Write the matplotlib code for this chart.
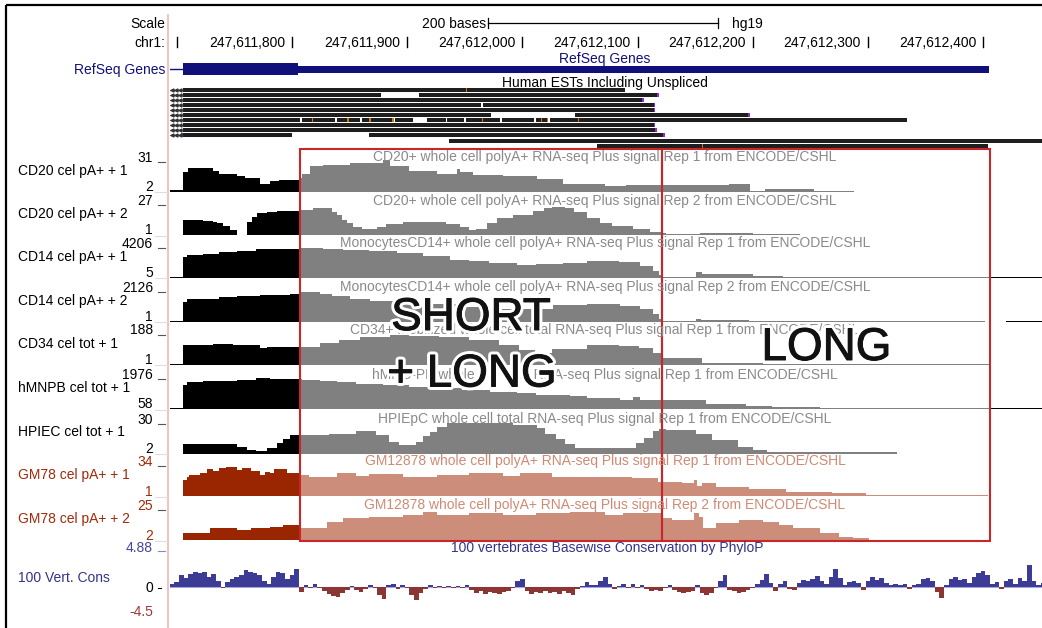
import numpy as np
import matplotlib.pyplot as plt
from matplotlib.patches import Rectangle
import matplotlib.patheffects as pe

plt.rcParams['font.family'] = ['Liberation Sans', 'DejaVu Sans']

W, H = 1042, 628
CHR_START = 247611700          # all positions below are bp offsets from chr1:247,611,700
XLIM = (-5.9, 751.1)
SHADE = (107, 706)             # region drawn in light colours
BOX_EDGES = (107, 421, 706)    # red boxes

# ---- ruler / gene ----
ruler_ticks = [0, 100, 200, 300, 400, 500, 600, 700]
scale_bar = (270, 470)
gene_start, gene_thick_end, gene_end = 5, 105, 705

# ---- ESTs: (start, end) per row ----
est_rows = [
    [(5, 389)],
    [(5, 177), (210, 418)],
    [(5, 405)],
    [(5, 264), (266, 415)],
    [(5, 415)],
    [(5, 273), (346, 497)],
    [(5, 107), (109, 137), (139, 159), (161, 187), (189, 205), (217, 234),
     (235, 249), (251, 281), (282, 310), (312, 322), (324, 634)],
    [(5, 415)],
    [(5, 416)],
    [(5, 100), (167, 423)],
    [(236, 751)],
    [(365, 704)],
]
est_marks = [(0, 251), (6, 117), (6, 148), (6, 167), (6, 187), (6, 265),
             (6, 316), (6, 321), (6, 348), (11, 456)]
est_caps = [(1, 418), (2, 405), (3, 415), (4, 415), (5, 497), (7, 415),
            (8, 416), (9, 423), (9, 5)]

# ---- signal tracks ----
track_names = ["CD20 cel pA+ + 1", "CD20 cel pA+ + 2", "CD14 cel pA+ + 1",
               "CD14 cel pA+ + 2", "CD34 cel tot + 1", "hMNPB cel tot + 1",
               "HPIEC cel tot + 1", "GM78 cel pA+ + 1", "GM78 cel pA+ + 2"]
track_titles = [
    "CD20+ whole cell polyA+ RNA-seq Plus signal Rep 1 from ENCODE/CSHL",
    "CD20+ whole cell polyA+ RNA-seq Plus signal Rep 2 from ENCODE/CSHL",
    "MonocytesCD14+ whole cell polyA+ RNA-seq Plus signal Rep 1 from ENCODE/CSHL",
    "MonocytesCD14+ whole cell polyA+ RNA-seq Plus signal Rep 2 from ENCODE/CSHL",
    "CD34+ Mobilized whole cell total RNA-seq Plus signal Rep 1 from ENCODE/CSHL",
    "hMNC-PB whole cell total RNA-seq Plus signal Rep 1 from ENCODE/CSHL",
    "HPIEpC whole cell total RNA-seq Plus signal Rep 1 from ENCODE/CSHL",
    "GM12878 whole cell polyA+ RNA-seq Plus signal Rep 1 from ENCODE/CSHL",
    "GM12878 whole cell polyA+ RNA-seq Plus signal Rep 2 from ENCODE/CSHL",
]
track_min = [2, 1, 5, 1, 1, 58, 2, 1, 2]
track_max = [31, 27, 4206, 2126, 188, 1976, 30, 34, 25]

t1_pos = [-6, 5, 10, 31, 37, 52, 59, 72, 81, 89, 107, 109, 116, 127, 150, 179, 185,
          202, 226, 243, 246, 257, 283, 313, 335, 372, 390, 422, 479, 498, 511, 553, 588]
t1_val = [3.1, 20.1, 23.7, 21.0, 17.9, 15.6, 13.8, 9.2, 11.1, 12.4, 13.8, 18.3, 24.7,
          26.0, 27.4, 30.5, 24.7, 21.0, 17.9, 22.8, 20.1, 17.0, 15.6, 12.9, 9.2, 7.0,
          8.3, 7.9, 9.2, 2.9, 4.3, 2.9]

t2_pos = [5, 23, 31, 35, 40, 46, 52, 61, 65, 70, 78, 87, 107, 118, 135, 139, 143, 148,
          153, 161, 174, 182, 196, 234, 246, 254, 260, 269, 278, 292, 309, 319, 326,
          337, 345, 356, 367, 378, 396, 411, 421, 425, 454, 500, 541]
t2_val = [13.2, 12.6, 11.6, 10.5, 8.3, 5.1, 1.0, 11.8, 15.6, 18.6, 19.9, 20.7, 21.3,
          22.7, 19.9, 17.3, 13.2, 10.5, 7.7, 5.9, 7.3, 9.9, 11.8, 9.9, 7.3, 5.1, 5.6,
          10.5, 14.6, 17.3, 20.7, 22.9, 24.0, 22.9, 19.7, 14.8, 10.8, 8.3, 5.6, 3.4,
          2.4, 1.8, 2.9, 1.8]

t3_pos = [-6, 5, 9, 23, 37, 52, 69, 107, 127, 144, 167, 191, 214, 237, 254, 271, 295,
          312, 335, 356, 384, 402, 413, 419, 422, 451, 456, 500, 526, 751]
t3_val = [136, 2631, 2959, 3090, 3288, 3524, 3681, 3813, 3747, 3616, 3419, 3156, 2828,
          2368, 2106, 1843, 1646, 1712, 1843, 2171, 1975, 1515, 858, 333, 136, 662,
          399, 202, 136]

t4_pos = [-6, 5, 9, 20, 37, 52, 72, 98, 107, 124, 135, 150, 168, 211, 246, 281, 327,
          356, 385, 402, 413, 419, 422, 451, 455, 497, 702, 720, 751]
t4_val = [67, 1329, 1462, 1528, 1661, 1727, 1761, 1794, 1993, 1860, 1694, 1528, 1395,
          1196, 997, 864, 1097, 1196, 1063, 864, 532, 200, 67, 134, 101, 67, 1, 67]

t5_pos = [-6, 5, 31, 49, 72, 78, 107, 124, 141, 159, 185, 202, 228, 254, 280, 297,
          311, 326, 356, 384, 401, 413, 422, 456, 509, 706]
t5_val = [6.8, 115, 121, 115, 96, 105, 105, 124, 144, 159, 176, 170, 159, 144, 115,
          83, 71, 94, 115, 112, 97, 68, 39, 9.8, 6.8]

t6_pos = [-6, 5, 9, 23, 52, 69, 81, 109, 124, 139, 156, 179, 202, 226, 248, 272, 295,
          312, 341, 356, 385, 396, 402, 459, 494, 517, 558, 751]
t6_val = [118, 1496, 1657, 1735, 1795, 1897, 1837, 1795, 1735, 1657, 1538, 1496, 1394,
          1298, 1196, 1094, 998, 897, 837, 717, 627, 795, 597, 358, 256, 178, 118]

t7_pos = [5, 52, 61, 69, 78, 87, 92, 98, 107, 132, 156, 173, 184, 193, 208, 214, 220,
          226, 235, 246, 269, 292, 313, 320, 329, 337, 346, 356, 399, 406, 413, 419,
          425, 451, 465, 487, 500, 512, 625]
t7_val = [10.2, 8.0, 5.1, 4.2, 6.4, 10.8, 15.1, 18.2, 18.2, 19.5, 21.7, 18.2, 12.5,
          9.4, 12.5, 16.9, 21.1, 25.5, 28.3, 29.1, 28.3, 26.7, 24.7, 19.5, 15.1, 9.9,
          6.4, 6.5, 10.8, 16.0, 21.3, 23.4, 22.6, 19.5, 14.2, 8.1, 5.1, 2.9]

t8_pos = [5, 9, 11, 20, 26, 31, 37, 43, 52, 57, 64, 72, 77, 81, 84, 96, 107, 115, 139,
          156, 167, 196, 226, 254, 283, 298, 326, 395, 418, 439, 449, 452, 456, 468,
          497, 529, 569, 598, 704]
t8_val = [17.5, 20.9, 22.6, 24.4, 28.8, 26.8, 30.2, 31.2, 27.8, 29.5, 26.8, 22.6, 26.0,
          24.4, 28.8, 24.4, 22.6, 20.9, 24.4, 21.9, 23.4, 20.9, 22.6, 24.4, 22.0, 24.4,
          20.9, 19.2, 15.7, 14.1, 17.5, 11.3, 14.1, 10.6, 8.2, 5.4, 3.8, 2.0]

t9_pos = [5, 29, 52, 64, 81, 92, 107, 115, 130, 144, 167, 196, 214, 226, 254, 283, 312,
          341, 372, 387, 420, 430, 449, 453, 457, 468, 488, 509, 523, 535, 558, 575,
          587, 601]
t9_val = [6.8, 10.4, 9.2, 10.9, 11.6, 12.8, 10.4, 10.9, 15.2, 17.6, 18.8, 20.0, 22.4,
          20.0, 21.2, 20.0, 21.2, 22.4, 20.0, 21.2, 17.6, 16.4, 21.2, 18.8, 10.4, 14.0,
          16.4, 15.2, 12.8, 10.4, 6.8, 4.4, 3.2]

track_pos = [t1_pos, t2_pos, t3_pos, t4_pos, t5_pos, t6_pos, t7_pos, t8_pos, t9_pos]
track_val = [t1_val, t2_val, t3_val, t4_val, t5_val, t6_val, t7_val, t8_val, t9_val]

# ---- 100 vertebrates PhyloP, 4 bp bins starting at -6 ----
cons_vals = [
    0.4, 0.7, 1.6, 1.2, 1.8, 2.0, 1.9, 2.0, 1.4, 1.8,
    0.8, -0.1, 0.7, 1.1, 1.4, 1.6, 2.3, 2.0, 1.9, 1.6,
    0.8, 0.4, 1.4, 2.0, 1.9, 1.1, 1.6, 2.4, -0.7, 0.3,
    -0.1, 0.4, -0.1, -0.5, -0.9, -1.2, -1.4, -0.8, -0.4, 0.1,
    -0.4, -0.7, -0.3, 0.3, -0.1, -1.1, -1.6, 0.3, 0.4, -0.3,
    0.3, -0.1, -1.1, -1.8, -0.8, -0.3, 0.3, -0.1, 0.1, -0.1,
    0.1, -0.1, 0.1, -0.1, 0.3, -0.4, -0.8, -0.5, -0.9, -0.7,
    -0.8, -0.9, -0.7, -0.5, -0.1, 0.8, 1.1, -0.5, -0.9, -0.7,
    -0.8, -0.5, -0.8, -0.7, -0.9, -0.5, -0.8, -1.1, -0.3, 0.1,
    0.7, 0.3, 0.3, 0.8, 1.4, 0.4, -0.3, 0.1, 0.4, -0.1,
    0.4, -0.1, 0.3, -0.3, -0.5, -0.4, -0.5, -0.1, 0.3, -0.4,
    -0.7, -0.8, -0.7, -0.5, 0.3, -0.8, -1.1, -0.8, -0.1, 0.8,
    1.6, -0.4, -0.5, -0.8, -0.7, -0.4, -0.1, 0.4, 0.9, 1.8,
    0.5, -0.5, 0.4, 0.8, -0.3, -0.4, 0.5, 0.9, 0.8, 1.1,
    1.5, 0.8, 0.4, 1.4, 2.4, 1.2, 0.3, 0.7, 0.8, 0.5,
    -0.4, 0.8, 1.4, 0.9, 1.2, 0.5, 0.3, 0.4, 0.3, 0.4,
    -0.3, 0.3, 0.4, 1.1, 1.2, 0.8, -0.7, -1.5, 0.3, 1.1,
    1.4, 0.9, 1.1, 0.5, 1.4, 1.9, 2.2, 1.6, 0.4, 0.7,
    -0.3, 0.8, 1.1, 0.4, 1.2, 0.8, 3.0, 0.8, 0.3, 0.5,
]

# ---- layout ----
TRACK_BASE = [191.5, 235, 277.5, 321.5, 364.5, 409, 453.5, 496, 540]
TRACK_H = 32
NAVY = '#10107a'
GRAY_TXT = '#8a8a8a'
DARK_RED = '#992600'
SALMON = '#cc8e7a'

fig = plt.figure(figsize=(W / 100, H / 100), dpi=100)


def add_px_axes(x0, y0, x1, y1):
    ax = fig.add_axes([x0 / W, 1 - y1 / H, (x1 - x0) / W, (y1 - y0) / H])
    ax.set_axis_off()
    return ax


bg = add_px_axes(0, 0, W, H)
bg.set_xlim(0, W)
bg.set_ylim(H, 0)
bg.add_patch(Rectangle((6, 5), 1200, 800, fill=False, ec='black', lw=1.6, clip_on=False))
bg.plot([167.5, 167.5], [15, H], color='#f5b5b5', lw=1.2)

bg.text(165, 24, "Scale", ha='right', va='center', fontsize=10)
bg.text(165, 43, "chr1:", ha='right', va='center', fontsize=10)
bg.text(165, 70, "RefSeq Genes", ha='right', va='center', fontsize=10, color=NAVY)

# genome axes: x in bp, y in pixels
gax = add_px_axes(170, 0, 1042, H)
gax.set_xlim(XLIM)
gax.set_ylim(H, 0)

for p in ruler_ticks:
    gax.plot([p, p], [37, 47], color='black', lw=1)
    if p > 0:
        gax.text(p - 6, 43, f"{CHR_START + p:,}", ha='right', va='center', fontsize=10)
gax.plot(scale_bar, [23, 23], color='black', lw=0.9)
for p in scale_bar:
    gax.plot([p, p], [18, 28], color='black', lw=0.9)
gax.text(scale_bar[0] - 1.5, 24, "200 bases", ha='right', va='center', fontsize=10)
gax.text(scale_bar[1] + 12, 24, "hg19", ha='left', va='center', fontsize=10)

gax.plot([XLIM[0], gene_start], [69, 69], color=NAVY, lw=1)
gax.add_patch(Rectangle((gene_start, 63), gene_thick_end - gene_start, 12, color=NAVY, lw=0))
gax.add_patch(Rectangle((gene_thick_end, 66), gene_end - gene_thick_end, 7, color=NAVY, lw=0))
gax.text(371.5, 59, "RefSeq Genes", ha='center', va='center', fontsize=10, color=NAVY)
gax.text(371.5, 83, "Human ESTs Including Unspliced", ha='center', va='center', fontsize=10)

for r, segs in enumerate(est_rows):
    y = 89.5 + 5.1 * r
    for a, b in segs:
        gax.add_patch(Rectangle((a, y - 2), b - a, 4, color='#1e1e1e', lw=0))
    if r < 10:
        gax.plot([XLIM[0], 5], [y, y], color='#333333', lw=0.6)
        gax.plot([-4, -0.5, 3], [y] * 3, ls='none', marker='<', ms=2.2, color='#333333')
for r, p in est_marks:
    y = 89.5 + 5.1 * r
    gax.add_patch(Rectangle((p, y - 2), 1.2, 4, color='#c87814', lw=0))
for r, p in est_caps:
    y = 89.5 + 5.1 * r
    gax.add_patch(Rectangle((p - 1, y - 2), 1.5, 4, color='#8a2be2', lw=0))

# signal tracks
for i, base in enumerate(TRACK_BASE):
    vmin, vmax = track_min[i], track_max[i]
    gm = track_names[i].startswith("GM")
    dark, light = (DARK_RED, SALMON) if gm else ('black', '#808080')
    lab_col = '#a02a0a' if gm else 'black'

    ax = add_px_axes(170, base - TRACK_H, 1042, base)
    ax.set_xlim(XLIM)
    ax.set_ylim(vmin, vmax)
    x = np.array(track_pos[i], float)
    y = np.append(track_val[i], track_val[i][-1])
    for col, (a, b) in [(dark, (XLIM[0], SHADE[0])), (light, SHADE), (dark, (SHADE[1], XLIM[1]))]:
        poly = ax.fill_between(x, vmin, y, step='post', color=col, lw=0)
        poly.set_clip_path(Rectangle((a, vmin), b - a, (vmax - vmin) * 2, transform=ax.transData))

    bg.text(18, base - 21, track_names[i], ha='left', va='center', fontsize=10, color=lab_col)
    bg.text(153, base - 34, str(vmax), ha='right', va='center', fontsize=10, color=lab_col)
    bg.text(153, base - 4.5, str(vmin), ha='right', va='center', fontsize=10, color=lab_col)
    bg.plot([158, 165], [base - 30, base - 30], color='#555555', lw=0.8)
    bg.plot([155, 167], [base + 0.8, base + 0.8], color='#dddddd', lw=0.8)

# conservation
cax = add_px_axes(170, 551, 1042, 620)
cax.set_xlim(XLIM)
cax.set_ylim(-4.5, 4.88)
cv = np.array(cons_vals)
cpos = np.arange(len(cv)) * 4 - 6
cax.axhline(0, color='#a8a8dc', lw=0.8, zorder=0)
cax.bar(cpos, cv, width=4, align='edge', lw=0,
        color=np.where(cv >= 0, '#3c3c96', '#8c3535'))

bg.text(18, 578, "100 Vert. Cons", ha='left', va='center', fontsize=10, color='#33338a')
bg.text(153, 548, "4.88", ha='right', va='center', fontsize=10, color='#4646a0')
bg.plot([158, 165], [551, 551], color='#8888bb', lw=0.8)
bg.text(153, 588, "0", ha='right', va='center', fontsize=10)
bg.plot([158, 161], [588, 588], color='black', lw=0.8)
bg.text(153, 612, "-4.5", ha='right', va='center', fontsize=10, color='#a03535')

# overlay: red boxes
ov = add_px_axes(170, 0, 1042, H)
ov.set_xlim(XLIM)
ov.set_ylim(H, 0)
for a, b in zip(BOX_EDGES[:-1], BOX_EDGES[1:]):
    ov.add_patch(Rectangle((a, 149), b - a, 392, fill=False, ec='#c9262c', lw=1.5))

txt = add_px_axes(0, 0, W, H)
txt.set_xlim(0, W)
txt.set_ylim(H, 0)
for i, base in enumerate(TRACK_BASE):
    gm = track_names[i].startswith("GM")
    txt.text(605, base - 34.5, track_titles[i], ha='center', va='center', fontsize=10,
             color='#d08a74' if gm else GRAY_TXT)
txt.text(607, 548, "100 vertebrates Basewise Conservation by PhyloP", ha='center',
         va='center', fontsize=10, color='#33338a')

stroke = [pe.Stroke(linewidth=5, foreground='white'),
          pe.Stroke(linewidth=0.7, foreground='#111111'), pe.Normal()]
for s, xx, yy in [("SHORT", 471, 330), ("+ LONG", 472, 386.5), ("LONG", 826.5, 360)]:
    txt.text(xx, yy, s, ha='center', va='baseline', fontsize=33, color='#111111',
             path_effects=stroke)

fig.savefig('out.png', dpi=100)
